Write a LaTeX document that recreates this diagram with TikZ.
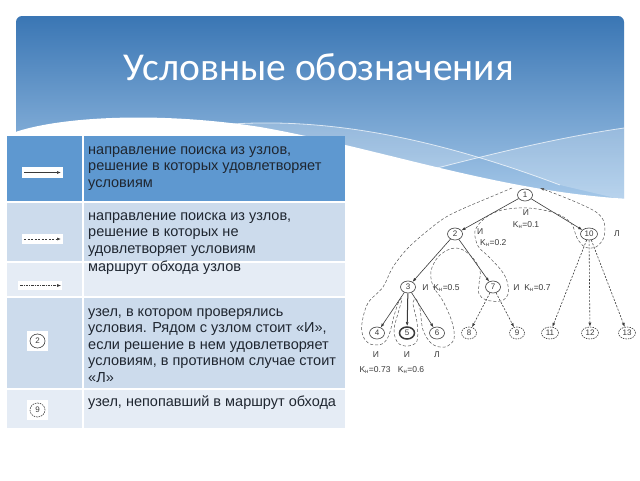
\documentclass[tikz,border=0pt]{standalone}
\usepackage{fontspec}
\setmainfont{Liberation Sans}
\newfontfamily\titlefont{Carlito}
\usetikzlibrary{arrows.meta,shapes.geometric}
\definecolor{hdrtop}{HTML}{3A76B4}
\definecolor{hdrbot}{HTML}{A8CAEA}
\definecolor{rowone}{HTML}{5E98D0}
\definecolor{rowA}{HTML}{CCDBEC}
\definecolor{rowB}{HTML}{E5ECF5}
\definecolor{txt}{HTML}{1F2630}
\definecolor{treeline}{HTML}{3A3A3A}
\definecolor{routec}{HTML}{555555}
\tikzset{
  celltext/.style={anchor=north west, align=left, text=txt, inner sep=0pt,
    font=\fontsize{14.5}{16.5}\selectfont},
  tn/.style={ellipse, draw=treeline, line width=0.6pt, fill=white, inner sep=0.5pt,
    minimum width=15pt, minimum height=12pt, font=\fontsize{8}{9}\selectfont, text=treeline},
  tnd/.style={tn, dash pattern=on 1.5pt off 1pt},
  tnb/.style={tn, line width=1.5pt},
  sarr/.style={draw=treeline, line width=0.6pt, -{Latex[length=4pt,width=3pt]}},
  darr/.style={sarr, dash pattern=on 2pt off 1.5pt},
  route/.style={draw=routec, line width=0.5pt, dash pattern=on 3pt off 2pt},
  lbl/.style={font=\fontsize{8.5}{10}\selectfont, text=treeline, inner sep=0pt},
  iconbox/.style={fill=white, draw=none},
}
\newcommand{\Kn}{K\textsubscript{н}}
\begin{document}
\begin{tikzpicture}[x=1pt,y=-1pt]
\useasboundingbox (0,0) rectangle (640,480);
\fill[white] (0,0) rectangle (640,480);
% header
\shade[top color=hdrtop, bottom color=hdrbot, rounded corners=6pt] (16,16) rectangle (624,205);
\fill[white, opacity=0.22] (200,127) .. controls (320,112) and (440,140) .. (560,185)
   -- (624,200) -- (624,128) .. controls (540,140) and (450,165) .. (390,180) -- cycle;
\fill[white] (10,134) .. controls (50,118) and (150,110) .. (260,127)
   .. controls (380,148) and (500,192) .. (630,199) -- (630,212) -- (10,212) -- cycle;
\draw[white, opacity=0.7, line width=0.8pt] (200,127) .. controls (320,112) and (440,140) .. (560,185);
\draw[white, opacity=0.7, line width=0.8pt] (390,180) .. controls (450,165) and (540,140) .. (624,128);
\node[font=\titlefont\fontsize{39.5}{44}\selectfont, text=white, anchor=base] (title) at (319,80) {Условные обозначения};
% table
\fill[rowone] (7,136) rectangle (82,201);
\fill[rowone] (84,136) rectangle (345,201);
\fill[rowA] (7,203) rectangle (82,261);
\fill[rowA] (84,203) rectangle (345,261);
\fill[rowB] (7,263) rectangle (82,296);
\fill[rowB] (84,263) rectangle (345,296);
\fill[rowA] (7,298) rectangle (82,388);
\fill[rowA] (84,298) rectangle (345,388);
\fill[rowB] (7,390) rectangle (82,428);
\fill[rowB] (84,390) rectangle (345,428);
\node[celltext] (t1) at (88,143) {\rule{0pt}{11pt}направление поиска из узлов,\\решение в которых удовлетворяет\\условиям};
\node[celltext] (t2) at (88,209) {\rule{0pt}{11pt}направление поиска из узлов,\\решение в которых не\\удовлетворяет условиям};
\node[celltext] (t3) at (88,260) {\rule{0pt}{11pt}маршрут обхода узлов};
\node[celltext] (t4) at (88,305) {\rule{0pt}{11pt}узел, в котором проверялись\\условия. Рядом с узлом стоит «И»,\\если решение в нем удовлетворяет\\условиям, в противном случае стоит\\«Л»};
\node[celltext] (t5) at (88,395) {\rule{0pt}{11pt}узел, непопавший в маршрут обхода};
% legend icons
\fill[iconbox] (22,167) rectangle (63,178);
\coordinate (la1) at (24,172.5); \coordinate (lb1) at (61,172.5);
\draw[sarr] (la1) -- (lb1);
\fill[iconbox] (22,234) rectangle (63,244);
\coordinate (la2) at (24,239); \coordinate (lb2) at (61,239);
\draw[darr] (la2) -- (lb2);
\fill[iconbox] (18,281) rectangle (62,290);
\coordinate (la3) at (20,285.5); \coordinate (lb3) at (61,285.5);
\draw[sarr, line width=0.5pt, dash pattern=on 2.5pt off 1.2pt on 0.6pt off 1.2pt] (la3) -- (lb3);
\fill[iconbox] (27,331) rectangle (48,351);
\node[tn, minimum width=15pt, minimum height=14pt] (ic2) at (37.5,341) {2};
\fill[iconbox] (27,400) rectangle (48,420);
\node[tnd, minimum width=15pt, minimum height=14pt] (ic9) at (37.5,410) {9};
% tree nodes
\node[tn] (n1) at (525,195) {1};
\node[tn] (n2) at (455,234) {2};
\node[tn, minimum width=17pt] (n10) at (589,234) {10};
\node[tn] (n3) at (408,287) {3};
\node[tn] (n7) at (493,287) {7};
\node[tn] (n4) at (377,333) {4};
\node[tnb] (n5) at (407,333) {5};
\node[tn] (n6) at (437,333) {6};
\node[tnd] (n8) at (469,333) {8};
\node[tnd] (n9) at (517,333) {9};
\node[tnd, minimum width=17pt] (n11) at (550,333) {11};
\node[tnd, minimum width=17pt] (n12) at (590,333) {12};
\node[tnd, minimum width=17pt] (n13) at (627,333) {13};
% tree edges
\draw[sarr] (n1) -- (n2);
\draw[sarr] (n1) -- (n10);
\draw[sarr] (n2) -- (n3);
\draw[sarr] (n2) -- (n7);
\draw[sarr] (n3) -- (n4);
\draw[sarr, line width=1pt] (n3) -- (n5);
\draw[sarr] (n3) -- (n6);
\draw[darr] (n7) -- (n8);
\draw[darr] (n7) -- (n9);
\draw[darr] (n10) -- (n11);
\draw[darr] (n10) -- (n12);
\draw[darr] (n10) -- (n13);
% labels
\node[lbl] (l1a) at (526,213) {И};
\node[lbl] (l1b) at (526,225) {\Kn=0.1};
\node[lbl, anchor=west] (l2a) at (477,232) {И};
\node[lbl, anchor=west] (l2b) at (480,243) {\Kn=0.2};
\node[lbl] (l10) at (617,234) {Л};
\node[lbl] (l3) at (441,288) {И \ \Kn=0.5};
\node[lbl] (l7) at (532,288) {И \ \Kn=0.7};
\node[lbl] (l4) at (376,355) {И};
\node[lbl] (l5) at (407,355) {И};
\node[lbl] (l6) at (437,355) {Л};
\node[lbl] (l4k) at (375,370) {\Kn=0.73};
\node[lbl] (l5k) at (411,370) {\Kn=0.6};
% traversal route
\draw[route, -{Latex[length=4pt,width=3pt]}] plot[smooth, tension=0.55] coordinates {
 (512,188) (493,196) (460,210) (440,221) (410,246) (393,267) (383,287) (368,303)
 (362,323) (363,336) (370,344) (382,344) (389,335) (394,316) (399,301) (402,299)
 (399,310) (394,330) (398,343) (408,346) (417,341) (417,322) (413,304) (416,299)
 (420,309) (423,330) (432,344) (445,347) (454,339) (452,322) (443,301) (433,286)
 (431,271) (438,257) (450,249) (461,249) (472,257) (480,270) (479,284)
 (479,294) (486,300) (501,301) (508,294) (507,281) (501,270) (488,256)
 (478,246) (475,231) (485,218) (502,210) (528,208) (555,213) (571,223)
 (577,238) (585,247) (596,247) (604,237) (604,222) (596,212) (578,203)
 (556,194) (540,188)};
\end{tikzpicture}
\end{document}
